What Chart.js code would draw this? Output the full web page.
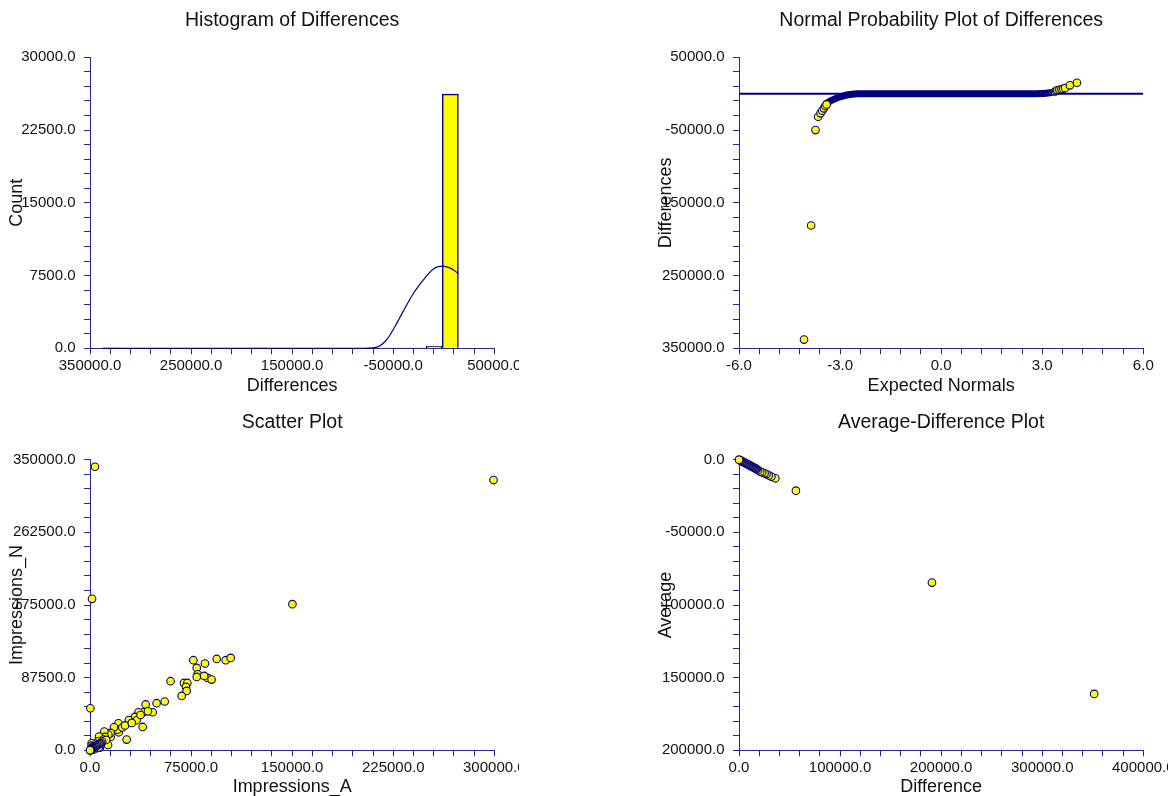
<!DOCTYPE html>
<html>
<head>
<meta charset="utf-8">
<title>Paired Differences: Impressions_A vs Impressions_N</title>
<script src="https://cdn.jsdelivr.net/npm/chart.js@4.4.1/dist/chart.umd.min.js"></script>
<style>
  html, body { margin: 0; padding: 0; background: #ffffff; }
  #wrap { position: relative; width: 1168px; height: 796px; overflow: hidden; background: #ffffff; }
  #wrap canvas { position: absolute; }
</style>
</head>
<body>
<div id="wrap">
  <canvas id="hist" width="519" height="398" style="left:0px;top:0px"></canvas>
  <canvas id="npp"  width="519" height="398" style="left:649px;top:0px"></canvas>
  <canvas id="scat" width="519" height="398" style="left:0px;top:398px"></canvas>
  <canvas id="avgd" width="519" height="398" style="left:649px;top:398px"></canvas>
</div>
<script>
// ---------- Histogram of Differences ----------
const histBinCenters = [-329500, -313500, -297500, -281500, -265500, -249500, -233500, -217500,
                        -201500, -185500, -169500, -153500, -137500, -121500, -105500, -89500,
                        -73500, -57500, -41500, -25500, -9500, 6500];
const histCounts = [1, 0, 0, 0, 0, 0, 0, 0, 0, 1, 0, 0, 0, 0, 0, 0, 0, 1, 3, 12, 200, 26200];
// fitted normal density, scaled to counts
const histCurveX = [-337500, -80000, -70000, -64000, -58000, -53000, -48000, -43300, -36000, -30100,
                    -25000, -20200, -15000, -10300, -5500, -1400, 3000, 7000, 11000, 14400];
const histCurveY = [0, 0, 40, 220, 700, 1400, 2300, 3200, 4600, 5650,
                    6400, 7050, 7700, 8180, 8420, 8480, 8400, 8240, 7980, 7660];
const histXTicks = [-350000, -250000, -150000, -50000, 50000];
const histXTickText = ['350000.0', '250000.0', '150000.0', '-50000.0', '50000.0'];
const histYTicks = [0, 7500, 15000, 22500, 30000];
const histYTickText = ['0.0', '7500.0', '15000.0', '22500.0', '30000.0'];

// ---------- Normal Probability Plot of Differences ----------
// dense run of overlapping points along the middle of the distribution
const nppBandZ = [-3.40, -3.30, -3.19, -3.09, -2.99, -2.89, -2.79, -2.64, -2.49, -2.20, 0, 2.80, 3.00, 3.12, 3.22, 3.33];
const nppBandD = [-13500, -10300, -7800, -5800, -4200, -2900, -1900, -800, -200, 0, 0, 0, 200, 600, 1200, 2100];
// individually visible points in both tails
const nppTailZ = [-4.07, -3.86, -3.73, -3.65, -3.58, -3.53, -3.48, -3.44, -3.40,
                  3.38, 3.42, 3.45, 3.51, 3.57, 3.62, 3.68, 3.82, 4.03];
const nppTailD = [-338000, -181200, -50000, -31700, -27000, -23500, -20200, -17000, -14800,
                  3000, 3800, 4590, 5300, 5960, 6800, 7760, 11470, 15050];
const nppRefZ = [-6, 6];
const nppRefD = [0, 0];
const nppXTicks = [-6, -3, 0, 3, 6];
const nppXTickText = ['-6.0', '-3.0', '0.0', '3.0', '6.0'];
const nppYTicks = [-350000, -250000, -150000, -50000, 50000];
const nppYTickText = ['350000.0', '250000.0', '150000.0', '-50000.0', '50000.0'];

// ---------- Scatter Plot ----------
const scatA = [3700, 299400, 1500, 150200, 300, 76700, 94000, 100700, 104400, 85300, 79200, 79800,
               79200, 87300, 90200, 84700, 59800, 69700, 72200, 71200, 71700, 68000, 55400, 49400,
               41300, 46500, 39600, 36000, 39100, 27200, 29200, 33400, 34600, 28800, 21100, 21300,
               20300, 17800, 15300, 15300, 13600, 10600, 11100, 6700, 9900, 13400, 7400, 6200,
               3700, 1200, 1200, 2500, 4500, 5000, 8000, 9000, 12000, 24000, 26000, 31000,
               37500, 43000, 5000, 3000, 1500, 6500, 2500,
               9000, 8200, 7500, 6800, 6100, 5500, 4900, 4300, 3800, 3300, 2800, 2400, 2000,
               1600, 1300, 1000, 700, 500, 300, 150, 0];
const scatN = [341500, 325500, 182400, 176000, 50600, 108500, 110000, 108500, 111300, 104500, 99200, 91600,
               88400, 87200, 85200, 89600, 83200, 81100, 81100, 76300, 71500, 65500, 58800, 56700,
               55200, 45800, 45800, 45800, 28100, 12900, 34100, 40200, 36200, 36500, 32600, 21700,
               24900, 27700, 16000, 20900, 18900, 22500, 16100, 16500, 12900, 6400, 3300, 10900,
               8000, 8400, 5600, 2800, 3000, 6000, 7000, 10000, 12500, 27500, 30000, 33000,
               42500, 47000, 2500, 5000, 3500, 3500, 700,
               10500, 9000, 8300, 7600, 6900, 6100, 5400, 4700, 4200, 3600, 3100, 2600, 2200,
               1800, 1400, 1100, 800, 500, 300, 150, 0];
const scatXTicks = [0, 75000, 150000, 225000, 300000];
const scatXTickText = ['0.0', '75000.0', '150000.0', '225000.0', '300000.0'];
const scatYTicks = [0, 87500, 175000, 262500, 350000];
const scatYTickText = ['0.0', '87500.0', '175000.0', '262500.0', '350000.0'];

// ---------- Average-Difference Plot ----------
const avgDiff = [351400, 190900, 56300, 36000, 32000, 29400, 27200, 25300, 23000, 21000, 18900,
                 17500, 16800, 16100, 15400, 14700, 14000, 13300, 12600, 11900, 11200, 10500, 9800,
                 9100, 8400, 7700, 7000, 6300, 5600, 4900, 4200, 3500, 2800, 2100, 1400, 700, 0];
const avgMean = [-161200, -84600, -21300, -12800, -11600, -10800, -9900, -9400, -8700, -8200, -7200,
                 -6500, -6200, -6000, -5700, -5400, -5200, -4900, -4700, -4400, -4100, -3900, -3600,
                 -3400, -3100, -2800, -2600, -2300, -2100, -1800, -1600, -1300, -1000, -800, -500, -300, 0];
const avgXTicks = [0, 100000, 200000, 300000, 400000];
const avgXTickText = ['0.0', '100000.0', '200000.0', '300000.0', '400000.0'];
const avgYTicks = [-200000, -150000, -100000, -50000, 0];
const avgYTickText = ['200000.0', '150000.0', '100000.0', '-50000.0', '0.0'];

// ---------- shared styling ----------
const FONT = "'Liberation Sans', Arial, Helvetica, sans-serif";
const NAVY = '#000080';
const AXIS_COLOR = '#26269a';
const YELLOW = '#ffff00';
const TEXT = '#111111';

Chart.defaults.font.family = FONT;

function pts(xs, ys) {
  return xs.map((x, i) => ({ x: x, y: ys[i] }));
}

function makeAxis(o) {
  const horizontal = o.pos === 'bottom';
  return {
    type: 'linear',
    position: o.pos,
    min: o.min,
    max: o.max,
    offset: false,
    grid: {
      display: true, drawOnChartArea: false, drawTicks: true, tickLength: 6,
      tickColor: AXIS_COLOR, tickWidth: 1, color: AXIS_COLOR, offset: false
    },
    border: { display: true, color: AXIS_COLOR, width: 1 },
    ticks: {
      stepSize: o.step,
      maxTicksLimit: 500,
      autoSkip: false,
      maxRotation: 0,
      minRotation: 0,
      color: TEXT,
      font: { family: FONT, size: 15, lineHeight: 1.2 },
      padding: horizontal ? 3 : 8.5,
      callback: function (v) {
        const i = o.major.findIndex(m => Math.abs(m - v) < o.step / 100);
        return i < 0 ? '' : o.labels[i];
      }
    },
    title: {
      display: true,
      text: o.title,
      color: TEXT,
      font: { family: FONT, size: 18, lineHeight: 1 },
      padding: horizontal ? { top: 0, bottom: o.titlePad } : { top: o.titlePad, bottom: 0 }
    },
    afterFit: function (scale) {
      if (horizontal) {
        scale.height = o.size;
        scale.paddingLeft = 0;
        scale.paddingRight = 0;
      } else {
        scale.width = o.size;
        scale.paddingTop = 0;
        scale.paddingBottom = 0;
      }
    }
  };
}

function baseOptions(titleText, titleTop, titleBottom) {
  return {
    responsive: false,
    devicePixelRatio: 1,
    animation: false,
    events: [],
    layout: { padding: { top: 0, left: 0, right: 24.7, bottom: 0 } },
    plugins: {
      legend: { display: false },
      tooltip: { enabled: false },
      title: {
        display: true,
        text: titleText,
        color: TEXT,
        fullSize: false,
        font: { family: FONT, size: 19.5, weight: 'normal', lineHeight: 1 },
        padding: { top: titleTop, bottom: titleBottom }
      }
    }
  };
}

const markerStyle = {
  pointRadius: 3.8,
  pointBorderWidth: 1.1,
  pointBackgroundColor: YELLOW,
  pointBorderColor: NAVY,
  clip: false
};

// Histogram
{
  const opts = baseOptions('Histogram of Differences', 11.25, 26.55);
  opts.scales = {
    x: makeAxis({ pos: 'bottom', min: -350000, max: 50000, step: 20000, major: histXTicks,
                  labels: histXTickText, title: 'Differences', titlePad: 3, size: 49.7 }),
    y: makeAxis({ pos: 'left', min: 0, max: 30000, step: 1500, major: histYTicks,
                  labels: histYTickText, title: 'Count', titlePad: 8, size: 90 })
  };
  new Chart(document.getElementById('hist'), {
    type: 'bar',
    data: {
      datasets: [
        {
          type: 'line',
          order: 0,
          data: pts(histCurveX, histCurveY),
          borderColor: NAVY,
          borderWidth: 1.2,
          pointRadius: 0,
          fill: false,
          cubicInterpolationMode: 'monotone',
          clip: false
        },
        {
          type: 'bar',
          order: 1,
          data: pts(histBinCenters, histCounts),
          backgroundColor: YELLOW,
          borderColor: NAVY,
          borderWidth: 1.5,
          barPercentage: 1,
          categoryPercentage: 1
        }
      ]
    },
    options: opts
  });
}

// Normal probability plot
{
  const opts = baseOptions('Normal Probability Plot of Differences', 11.25, 26.55);
  opts.scales = {
    x: makeAxis({ pos: 'bottom', min: -6, max: 6, step: 0.6, major: nppXTicks,
                  labels: nppXTickText, title: 'Expected Normals', titlePad: 3, size: 49.7 }),
    y: makeAxis({ pos: 'left', min: -350000, max: 50000, step: 20000, major: nppYTicks,
                  labels: nppYTickText, title: 'Differences', titlePad: 8, size: 90 })
  };
  new Chart(document.getElementById('npp'), {
    type: 'scatter',
    data: {
      datasets: [
        Object.assign({ order: 0, data: pts(nppTailZ, nppTailD) }, markerStyle),
        {
          type: 'line', order: 1, data: pts(nppBandZ, nppBandD),
          borderColor: NAVY, borderWidth: 7, borderCapStyle: 'round', borderJoinStyle: 'round',
          pointRadius: 0, fill: false, cubicInterpolationMode: 'monotone', clip: false
        },
        {
          type: 'line', order: 2, data: pts(nppRefZ, nppRefD),
          borderColor: NAVY, borderWidth: 2, pointRadius: 0, fill: false
        }
      ]
    },
    options: opts
  });
}

// Scatter plot
{
  const opts = baseOptions('Scatter Plot', 14.75, 27.45);
  opts.scales = {
    x: makeAxis({ pos: 'bottom', min: 0, max: 300000, step: 15000, major: scatXTicks,
                  labels: scatXTickText, title: 'Impressions_A', titlePad: 0, size: 45.7 }),
    y: makeAxis({ pos: 'left', min: 0, max: 350000, step: 17500, major: scatYTicks,
                  labels: scatYTickText, title: 'Impressions_N', titlePad: 8, size: 90 })
  };
  new Chart(document.getElementById('scat'), {
    type: 'scatter',
    data: { datasets: [Object.assign({ data: pts(scatA, scatN) }, markerStyle)] },
    options: opts
  });
}

// Average-difference plot
{
  const opts = baseOptions('Average-Difference Plot', 14.75, 27.45);
  opts.scales = {
    x: makeAxis({ pos: 'bottom', min: 0, max: 400000, step: 20000, major: avgXTicks,
                  labels: avgXTickText, title: 'Difference', titlePad: 0, size: 45.7 }),
    y: makeAxis({ pos: 'left', min: -200000, max: 0, step: 10000, major: avgYTicks,
                  labels: avgYTickText, title: 'Average', titlePad: 8, size: 90 })
  };
  new Chart(document.getElementById('avgd'), {
    type: 'scatter',
    data: { datasets: [Object.assign({ data: pts(avgDiff, avgMean) }, markerStyle)] },
    options: opts
  });
}
</script>
</body>
</html>
